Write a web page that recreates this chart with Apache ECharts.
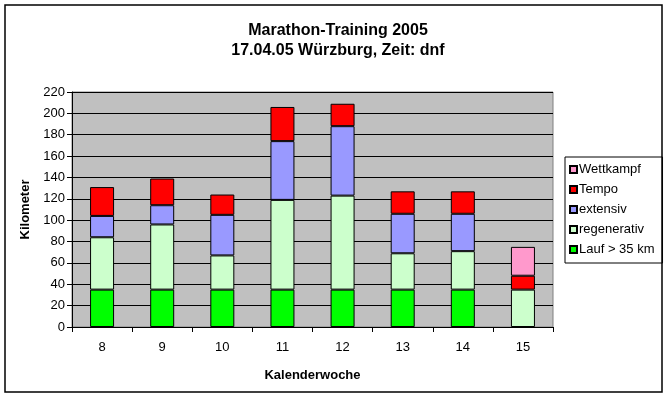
<!DOCTYPE html>
<html><head><meta charset="utf-8">
<script src="https://cdn.jsdelivr.net/npm/echarts@6/dist/echarts.min.js"></script>
<style>html,body{margin:0;padding:0;background:#fff}#c{width:669px;height:397px}</style>
</head><body><div id="c"></div>
<script>
const weeks = ['8','9','10','11','12','13','14','15'];
const lauf = [35, 35, 35, 35, 35, 35, 35, '-'];
const regenerativ = [49, 61, 32, 84, 88, 34, 36, 35];
const extensiv = [20, 18, 38, 55, 65, 37, 35, '-'];
const tempo = [27, 25, 19, 32, 21, 21, 21, 13];
const wettkampf = ['-', '-', '-', '-', '-', '-', '-', 27];
const yTicks = [0, 20, 40, 60, 80, 100, 120, 140, 160, 180, 200, 220];

const font = 'Liberation Sans, Arial, sans-serif';
const chart = echarts.init(document.getElementById('c'), null, {renderer: 'canvas'});
function s(name, data, color) {
  return {name, type: 'bar', stack: 'a', data, barWidth: 24,
    itemStyle: {color, borderColor: '#000', borderWidth: 1}, animation: false};
}
chart.setOption({
  animation: false,
  title: {
    text: 'Marathon-Training 2005\n17.04.05 Würzburg, Zeit: dnf',
    left: 333, textAlign: 'center', top: 16,
    textStyle: {fontFamily: font, fontSize: 16, fontWeight: 'bold', color: '#000', lineHeight: 20}
  },
  graphic: [{type: 'rect', shape: {x: 5, y: 5, width: 657, height: 387},
    style: {fill: 'none', stroke: '#000', lineWidth: 1.5}, z: -1}],
  legend: {
    orient: 'vertical', left: 565, top: 157, width: 95,
    data: ['Wettkampf', 'Tempo', 'extensiv', 'regenerativ', 'Lauf > 35 km'],
    itemWidth: 7, itemHeight: 7, itemGap: 7,
    padding: [6, 8, 7, 4],
    borderColor: '#000', borderWidth: 1,
    icon: 'rect',
    textStyle: {fontFamily: font, fontSize: 13, color: '#000', padding: [0, 0, 0, -3]}
  },
  grid: {left: 72, top: 92, width: 481, height: 235, show: true,
    backgroundColor: '#C0C0C0', borderColor: '#808080', borderWidth: 1},
  xAxis: {
    type: 'category', data: weeks,
    name: 'Kalenderwoche', nameLocation: 'middle', nameGap: 42,
    nameTextStyle: {fontFamily: font, fontSize: 13, fontWeight: 'bold', color: '#000'},
    axisLine: {lineStyle: {color: '#000', width: 1}},
    axisTick: {show: true, length: 5, lineStyle: {color: '#000'}},
    axisLabel: {fontFamily: font, fontSize: 13, color: '#000', margin: 14}
  },
  yAxis: {
    type: 'value', min: 0, max: 220, interval: 20,
    name: 'Kilometer', nameLocation: 'middle', nameGap: 38,
    nameTextStyle: {fontFamily: font, fontSize: 13, fontWeight: 'bold', color: '#000'},
    axisLine: {show: true, lineStyle: {color: '#000', width: 1}},
    axisTick: {show: true, length: 5, lineStyle: {color: '#000'}},
    axisLabel: {fontFamily: font, fontSize: 13, color: '#000', margin: 7,
      formatter: v => yTicks.includes(v) ? String(v) : ''},
    splitLine: {show: true, lineStyle: {color: '#000', width: 1}}
  },
  series: [
    s('Lauf > 35 km', lauf, '#00FF00'),
    s('regenerativ', regenerativ, '#CCFFCC'),
    s('extensiv', extensiv, '#9999FF'),
    s('Tempo', tempo, '#FF0000'),
    s('Wettkampf', wettkampf, '#FF99CC')
  ]
});
</script></body></html>
